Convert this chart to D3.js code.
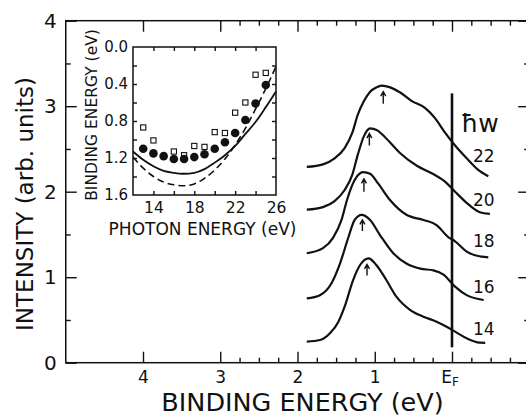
<!DOCTYPE html>
<html>
<head>
<meta charset="utf-8">
<script src="https://cdn.jsdelivr.net/npm/d3@7"></script>
<style>
  body { margin: 0; background: #fff; }
  svg { display: block; }
  text { font-family: "DejaVu Sans", sans-serif; fill: #111; }
</style>
</head>
<body>
<svg id="chart" width="526" height="416"></svg>
<script>
//--------------------------DATA------------------------------------------------
// main panel: photoemission spectra, [binding energy (eV), intensity]
var photonLabels = ["22", "20", "18", "16", "14"];
var labelLevels = [2.35, 1.83, 1.35, 0.82, 0.32];
var spectrum22 = [[1.88, 2.29], [1.67, 2.32], [1.52, 2.39], [1.39, 2.51], [1.29, 2.69], [1.22, 2.90],
    [1.14, 3.06], [1.06, 3.17], [0.98, 3.22], [0.91, 3.24], [0.80, 3.22], [0.67, 3.16],
    [0.52, 3.06], [0.35, 2.98], [0.22, 2.86], [0.09, 2.69], [-0.04, 2.54], [-0.19, 2.39],
    [-0.32, 2.27], [-0.47, 2.18]];
var spectrum20 = [[1.88, 1.79], [1.67, 1.82], [1.52, 1.89], [1.39, 2.02], [1.29, 2.20], [1.22, 2.43],
    [1.14, 2.65], [1.06, 2.74], [0.97, 2.72], [0.87, 2.64], [0.67, 2.45], [0.45, 2.30],
    [0.25, 2.21], [0.08, 2.11], [-0.04, 2.00], [-0.19, 1.87], [-0.36, 1.76], [-0.49, 1.74]];
var spectrum18 = [[1.88, 1.28], [1.67, 1.34], [1.54, 1.46], [1.43, 1.67], [1.36, 1.90], [1.29, 2.08],
    [1.23, 2.18], [1.15, 2.23], [1.06, 2.21], [0.96, 2.10], [0.80, 1.90], [0.59, 1.73],
    [0.37, 1.67], [0.20, 1.61], [0.05, 1.47], [-0.04, 1.42], [-0.19, 1.30], [-0.38, 1.24],
    [-0.47, 1.233]];
var spectrum16 = [[1.88, 0.753], [1.71, 0.79], [1.56, 0.93], [1.45, 1.16], [1.34, 1.47], [1.26, 1.67],
    [1.17, 1.73], [1.06, 1.67], [0.93, 1.49], [0.76, 1.28], [0.59, 1.16], [0.41, 1.10],
    [0.24, 1.08], [0.11, 1.03], [-0.04, 0.89], [-0.19, 0.79], [-0.41, 0.733]];
var spectrum14 = [[1.88, 0.246], [1.71, 0.265], [1.58, 0.344], [1.47, 0.48], [1.39, 0.655], [1.28, 0.967],
    [1.19, 1.143], [1.08, 1.221], [0.98, 1.143], [0.85, 0.967], [0.72, 0.772], [0.54, 0.616],
    [0.37, 0.538], [0.20, 0.48], [0.07, 0.421], [-0.04, 0.363], [-0.19, 0.285], [-0.36, 0.234],
    [-0.43, 0.232]];
var spectra = [spectrum22, spectrum20, spectrum18, spectrum16, spectrum14];
// peak arrows: [binding energy, intensity at tail, intensity at tip]
var peakArrows = [[0.89, 3.03, 3.17], [1.07, 2.54, 2.68], [1.14, 2.00, 2.15], [1.16, 1.54, 1.67], [1.10, 1.02, 1.15]];
var fermiLine = [3.15, 0.18];

var mainMajorX = [4, 3, 2, 1, 0];
var mainMinorX = [2.75, 2.5, 2.25, 1.75, 1.5, 1.25, 0.75, 0.5, 0.25, -0.25, -0.5, -0.75];
var mainMajorY = [0, 1, 2, 3, 4];
var mainMinorY = [0.5, 1.5, 2.5, 3.5];

// inset: binding energy of the peak vs photon energy
var squareHv = [13, 14, 16, 17, 18, 19, 20, 21, 22, 23, 24, 25];
var squareBE = [0.87, 1.01, 1.13, 1.17, 1.07, 1.08, 0.92, 0.93, 0.71, 0.60, 0.30, 0.28];
var circleHv = [13, 14, 15, 16, 17, 18, 19, 20, 21, 22, 23, 24, 25];
var circleBE = [1.10, 1.15, 1.18, 1.21, 1.21, 1.19, 1.16, 1.10, 1.03, 0.93, 0.79, 0.61, 0.41];
var theoryHv = [12, 13, 14, 15, 16, 17, 18, 19, 20, 21, 22, 23, 24, 25, 26];
var solidBE = [1.13, 1.22, 1.29, 1.34, 1.36, 1.37, 1.36, 1.32, 1.25, 1.17, 1.07, 0.94, 0.81, 0.65, 0.48];
var dashedBE = [1.19, 1.31, 1.40, 1.46, 1.49, 1.50, 1.48, 1.42, 1.33, 1.21, 1.06, 0.88, 0.67, 0.45, 0.21];
var insetTicksX = [14, 16, 18, 20, 22, 24];
var insetLabelsX = [14, 18, 22, 26];
var insetTicksY = [0.2, 0.4, 0.6, 0.8, 1.0, 1.2, 1.4];
var insetLabelsY = [0.0, 0.4, 0.8, 1.2, 1.6];

//--------------------------MAIN PANEL------------------------------------------
var svg = d3.select("#chart");
var x = d3.scaleLinear().domain([5, -1]).range([65.75, 529.25]);
var y = d3.scaleLinear().domain([0, 4]).range([362.7, 20.7]);

// frame
svg.append("rect")
    .attr("x", x(5)).attr("y", y(4))
    .attr("width", x(-1) - x(5)).attr("height", y(0) - y(4))
    .style("fill", "none").style("stroke", "#111").style("stroke-width", 1.5);

function styleAxis(sel) {
    sel.select(".domain").remove();
    sel.selectAll("line").style("stroke", "#111").style("stroke-width", 1.4);
}

var bottom = svg.append("g").attr("transform", "translate(0," + y(0) + ")")
    .call(d3.axisBottom(x).tickValues(mainMajorX).tickSizeInner(-11).tickSizeOuter(0).tickPadding(8)
        .tickFormat(function(d) { return d === 0 ? "" : d; }));
bottom.call(styleAxis);
bottom.selectAll("text").style("font-size", "17px");
bottom.selectAll(".tick").filter(function(d) { return d === 0; }).select("text")
    .text("E").attr("dx", "-0.15em")
    .append("tspan").attr("dy", "0.3em").style("font-size", "12px").text("F");
svg.append("g").attr("transform", "translate(0," + y(0) + ")")
    .call(d3.axisBottom(x).tickValues(mainMinorX).tickSizeInner(-5).tickSizeOuter(0).tickFormat(""))
    .call(styleAxis);

svg.append("g").attr("transform", "translate(0," + y(4) + ")")
    .call(d3.axisTop(x).tickValues(mainMajorX).tickSizeInner(-11).tickSizeOuter(0).tickFormat(""))
    .call(styleAxis);
svg.append("g").attr("transform", "translate(0," + y(4) + ")")
    .call(d3.axisTop(x).tickValues(mainMinorX).tickSizeInner(-5).tickSizeOuter(0).tickFormat(""))
    .call(styleAxis);

var left = svg.append("g").attr("transform", "translate(" + x(5) + ",0)")
    .call(d3.axisLeft(y).tickValues(mainMajorY).tickSizeInner(-11).tickSizeOuter(0).tickPadding(9)
        .tickFormat(d3.format("d")));
left.call(styleAxis);
left.selectAll("text").style("font-size", "20px");
svg.append("g").attr("transform", "translate(" + x(5) + ",0)")
    .call(d3.axisLeft(y).tickValues(mainMinorY).tickSizeInner(-5).tickSizeOuter(0).tickFormat(""))
    .call(styleAxis);

svg.append("g").attr("transform", "translate(" + x(-1) + ",0)")
    .call(d3.axisRight(y).tickValues(mainMajorY).tickSizeInner(-11).tickSizeOuter(0).tickFormat(""))
    .call(styleAxis);
svg.append("g").attr("transform", "translate(" + x(-1) + ",0)")
    .call(d3.axisRight(y).tickValues(mainMinorY).tickSizeInner(-5).tickSizeOuter(0).tickFormat(""))
    .call(styleAxis);

// axis titles
svg.append("text")
    .attr("x", (x(4) + x(0)) / 2 + 5).attr("y", 411)
    .style("text-anchor", "middle").style("font-size", "25.5px")
    .text("BINDING ENERGY (eV)");
svg.append("text")
    .attr("transform", "translate(33," + 204 + ") rotate(-90)")
    .style("text-anchor", "middle").style("font-size", "23px")
    .text("INTENSITY (arb. units)");

// spectra
var line = d3.line()
    .x(function(d) { return x(d[0]); })
    .y(function(d) { return y(d[1]); })
    .curve(d3.curveMonotoneX);

svg.selectAll(".spectrum")
    .data(spectra)
    .enter().append("path")
    .attr("class", "spectrum")
    .attr("d", line)
    .style("fill", "none").style("stroke", "#111").style("stroke-width", 2.2)
    .style("stroke-linejoin", "round");

// Fermi level line
svg.append("line")
    .attr("x1", x(0)).attr("x2", x(0))
    .attr("y1", y(fermiLine[0])).attr("y2", y(fermiLine[1]))
    .style("stroke", "#111").style("stroke-width", 2.6);

// peak arrows
svg.selectAll(".arrow")
    .data(peakArrows)
    .enter().append("path")
    .attr("class", "arrow")
    .attr("d", function(d) {
        var px = x(d[0]), y0 = y(d[1]), y1 = y(d[2]);
        return "M" + px + "," + y0 + "L" + px + "," + y1 +
            "M" + (px - 2.5) + "," + (y1 + 4.5) + "L" + px + "," + y1 + "L" + (px + 2.5) + "," + (y1 + 4.5);
    })
    .style("fill", "none").style("stroke", "#111").style("stroke-width", 1.4);

// photon energy labels at the right end of each spectrum
svg.selectAll(".hvlabel")
    .data(labelLevels)
    .enter().append("text")
    .attr("class", "hvlabel")
    .attr("x", 473)
    .attr("y", function(d) { return y(d); })
    .style("font-size", "17px")
    .text(function(d, i) { return photonLabels[i]; });
svg.append("text")
    .attr("x", 461).attr("y", 132)
    .style("font-size", "25px")
    .text("ħw");

//--------------------------INSET-----------------------------------------------
var xi = d3.scaleLinear().domain([12, 26]).range([133, 276]);
var yi = d3.scaleLinear().domain([0, 1.6]).range([47, 195]);
var inset = svg.append("g");

inset.append("rect")
    .attr("x", xi(12)).attr("y", yi(0))
    .attr("width", xi(26) - xi(12)).attr("height", yi(1.6) - yi(0))
    .style("fill", "#fff").style("stroke", "#111").style("stroke-width", 1.5);

inset.append("g").attr("transform", "translate(0," + yi(1.6) + ")")
    .call(d3.axisBottom(xi).tickValues(insetTicksX).tickSizeInner(-4).tickSizeOuter(0).tickFormat(""))
    .call(styleAxis);
var iBottom = inset.append("g").attr("transform", "translate(0," + yi(1.6) + ")")
    .call(d3.axisBottom(xi).tickValues(insetLabelsX).tickSize(0).tickPadding(7));
iBottom.call(styleAxis);
iBottom.selectAll("text").style("font-size", "15.5px");
inset.append("g").attr("transform", "translate(0," + yi(0) + ")")
    .call(d3.axisTop(xi).tickValues(insetTicksX).tickSizeInner(-4).tickSizeOuter(0).tickFormat(""))
    .call(styleAxis);
inset.append("g").attr("transform", "translate(" + xi(12) + ",0)")
    .call(d3.axisLeft(yi).tickValues(insetTicksY).tickSizeInner(-4).tickSizeOuter(0).tickFormat(""))
    .call(styleAxis);
var iLeft = inset.append("g").attr("transform", "translate(" + xi(12) + ",0)")
    .call(d3.axisLeft(yi).tickValues(insetLabelsY).tickSize(0).tickPadding(5).tickFormat(d3.format(".1f")));
iLeft.call(styleAxis);
iLeft.selectAll("text").style("font-size", "15px");
inset.append("g").attr("transform", "translate(" + xi(26) + ",0)")
    .call(d3.axisRight(yi).tickValues(insetTicksY).tickSizeInner(-4).tickSizeOuter(0).tickFormat(""))
    .call(styleAxis);

inset.append("text")
    .attr("x", (xi(12) + xi(26)) / 2 - 2).attr("y", 235)
    .style("text-anchor", "middle").style("font-size", "17px")
    .text("PHOTON ENERGY (eV)");
inset.append("text")
    .attr("transform", "translate(97," + 115 + ") rotate(-90)")
    .style("text-anchor", "middle").style("font-size", "15.5px")
    .text("BINDING ENERGY (eV)");

var insetLine = d3.line()
    .x(function(d) { return xi(d[0]); })
    .y(function(d) { return yi(d[1]); })
    .curve(d3.curveMonotoneX);

inset.append("path")
    .attr("d", insetLine(d3.zip(theoryHv, solidBE)))
    .style("fill", "none").style("stroke", "#111").style("stroke-width", 1.8);
inset.append("path")
    .attr("d", insetLine(d3.zip(theoryHv, dashedBE)))
    .style("fill", "none").style("stroke", "#111").style("stroke-width", 1.6)
    .style("stroke-dasharray", "7,4");

inset.selectAll(".sq")
    .data(d3.zip(squareHv, squareBE))
    .enter().append("rect")
    .attr("class", "sq")
    .attr("x", function(d) { return xi(d[0]) - 2.6; })
    .attr("y", function(d) { return yi(d[1]) - 2.6; })
    .attr("width", 5.2).attr("height", 5.2)
    .style("fill", "#fff").style("stroke", "#111").style("stroke-width", 1.1);

inset.selectAll(".dot")
    .data(d3.zip(circleHv, circleBE))
    .enter().append("circle")
    .attr("class", "dot")
    .attr("cx", function(d) { return xi(d[0]); })
    .attr("cy", function(d) { return yi(d[1]); })
    .attr("r", 4.3)
    .style("fill", "#111");
</script>
</body>
</html>
